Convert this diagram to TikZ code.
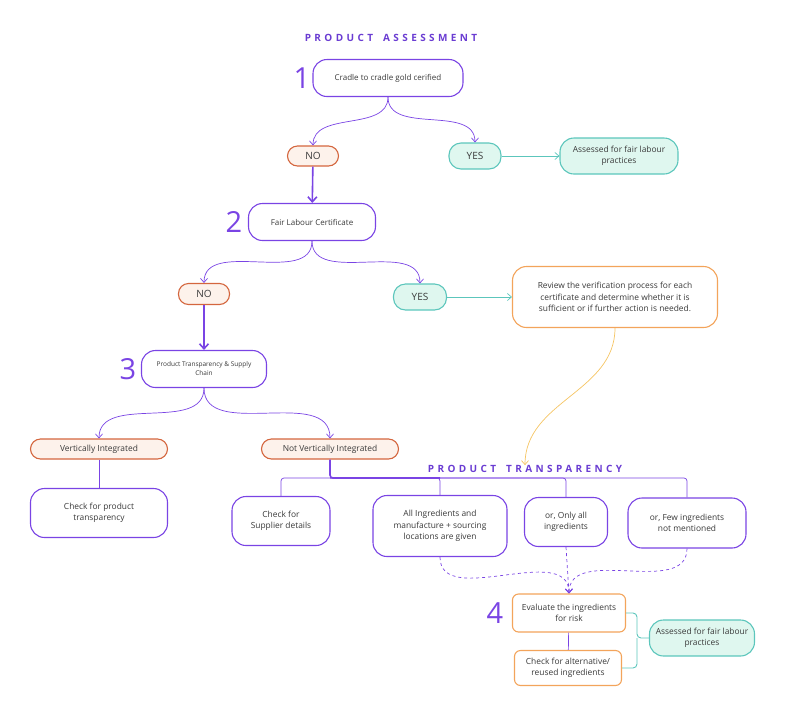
\documentclass[tikz,border=0pt]{standalone}
\usepackage{fontspec}
\setmainfont{Open Sans}
\newfontfamily\spacedfont[LetterSpace=34]{Open Sans}
\usetikzlibrary{arrows.meta}
\definecolor{plum}{HTML}{7A44E4}
\definecolor{headplum}{HTML}{6A3CD2}
\definecolor{rust}{HTML}{D4663E}
\definecolor{rustfill}{HTML}{FDF2EB}
\definecolor{lagoon}{HTML}{5CC6BC}
\definecolor{mint}{HTML}{DFF7EF}
\definecolor{amber}{HTML}{F3A45B}
\definecolor{honey}{HTML}{F5C462}
\definecolor{ink}{HTML}{3A3A3A}
\tikzset{ box/.style = { rectangle
                       , draw = plum
                       , line width   = 1.1pt
                       , fill = white
                       , text = ink
                       , align = center
                       , inner sep    = 0pt
                       , rounded corners = 14pt
                       , font = \fontsize{8.4}{11.5}\selectfont
                       },
            no/.style = { box
            , draw = rust
            , fill = rustfill
            , rounded corners = 10pt
            , font = \fontsize{10}{12}\selectfont
            },
            yes/.style = { no
            , draw = lagoon
            , fill = mint
            , rounded corners = 12pt
            },
            done/.style = { box
            , draw = lagoon
            , fill = mint
            },
            todo/.style = { box
            , draw = amber
            },
            stage/.style = { text = plum
            , inner sep = 0pt
            , font = \fontsize{29}{30}\selectfont
            },
            head/.style = { text = headplum
            , inner sep = 0pt
            , font = \spacedfont\bfseries\fontsize{10}{12}\selectfont
            },
            link/.style = { draw = plum
            , line width = 0.7pt
            , -{Straight Barb[length=4pt,width=7pt]}
            },
            heavy/.style = { draw = plum
            , line width = 1.6pt
            , -{Straight Barb[length=5pt,width=9pt]}
            }
          }
\begin{document}
\begin{tikzpicture}[x=1pt,y=-1pt]
            \useasboundingbox (0,0) rectangle (785,716);
            \node[head] (tpa) at (391,38) {PRODUCT\hspace{4pt} ASSESSMENT};
            % step 1
            \node[box, minimum width=150pt, minimum height=37pt, font=\fontsize{8}{10}\selectfont] (q1) at (388,78) {Cradle to cradle gold cerified};
            \node[stage] (s1) at (302,78) {1};
            \node[no, minimum width=51pt, minimum height=20pt] (n1) at (313,156) {NO};
            \node[yes, minimum width=52pt, minimum height=26pt] (y1) at (475,156) {YES};
            \node[done, minimum width=118pt, minimum height=36pt] (ok1) at (619,156) {Assessed for fair labour\\practices};
            \draw[link] (q1.south) to[out=-90,in=90] (n1.north);
            \draw[link] (q1.south) to[out=-90,in=90] (y1.north);
            \draw[link, draw=lagoon] (y1) -- (ok1);
            % step 2
            \node[box, minimum width=127pt, minimum height=37pt, font=\fontsize{8}{10}\selectfont] (q2) at (312,222) {Fair Labour Certificate};
            \node[stage] (s2) at (234,222) {2};
            \draw[heavy] (n1) -- (q2);
            \node[no, minimum width=51pt, minimum height=21pt] (n2) at (204,294) {NO};
            \node[yes, minimum width=53pt, minimum height=26pt] (y2) at (420,297) {YES};
            \node[todo, minimum width=205pt, minimum height=61pt] (rev) at (615,297)
                {Review the verification process for each\\certificate and determine whether it is\\sufficient or if further action is needed.};
            \draw[link] (q2.south) to[out=-90,in=90] (n2.north);
            \draw[link] (q2.south) to[out=-90,in=90] (y2.north);
            \draw[link, draw=lagoon] (y2) -- (rev);
            % step 3
            \node[box, minimum width=125pt, minimum height=37pt, font=\fontsize{6.5}{9}\selectfont] (q3) at (204,369)
                {Product Transparency \& Supply\\Chain};
            \node[stage] (s3) at (128,369) {3};
            \draw[heavy] (n2) -- (q3);
            \node[no, minimum width=137pt, minimum height=20pt, font=\fontsize{8.4}{10}\selectfont] (vi) at (99,449) {Vertically Integrated};
            \node[no, minimum width=137pt, minimum height=20pt, font=\fontsize{8.4}{10}\selectfont] (nvi) at (330,449) {Not Vertically Integrated};
            \draw[link] (q3.south) to[out=-90,in=90] (vi.north);
            \draw[link] (q3.south) to[out=-90,in=90] (nvi.north);
            \node[box, minimum width=137pt, minimum height=49pt] (cpt) at (99,513) {Check for product\\transparency};
            \draw[plum, line width=0.7pt] (vi) -- (cpt);
            % product transparency
            \node[head] (tpt) at (525,469) {PRODUCT\hspace{4pt} TRANSPARENCY};
            \draw[link, draw=honey] (rev.south) to[out=-90,in=90] (tpt.north);
            \node[box, minimum width=98pt, minimum height=49pt] (sup) at (281,521) {Check for\\Supplier details};
            \node[box, minimum width=134pt, minimum height=61pt] (all) at (440,526)
                {All Ingredients and\\manufacture + sourcing\\locations are given};
            \node[box, minimum width=83pt, minimum height=49pt] (only) at (566,522) {or, Only all\\ingredients};
            \node[box, minimum width=118pt, minimum height=50pt] (few) at (687,523) {or, Few ingredients\\not mentioned};
            \coordinate (hub) at (330,478);
            \draw[plum, line width=0.7pt, rounded corners=3pt] (hub) -| (sup.north);
            \draw[plum, line width=0.7pt, rounded corners=3pt] (hub) -| (all.north);
            \draw[plum, line width=0.7pt, rounded corners=3pt] (hub) -| (only.north);
            \draw[plum, line width=0.7pt, rounded corners=3pt] (hub) -| (few.north);
            \draw[plum, line width=1.6pt, rounded corners=3pt] (nvi.south) -- (hub) -- (all.north |- hub);
            % step 4
            \node[todo, minimum width=113pt, minimum height=38pt, rounded corners=6pt] (eval) at (569,613)
                {Evaluate the ingredients\\for risk};
            \node[stage] (s4) at (495,613) {4};
            \node[todo, minimum width=107pt, minimum height=35pt, rounded corners=6pt] (alt) at (568,668)
                {Check for alternative/\\reused ingredients};
            \node[done, minimum width=105pt, minimum height=36pt] (ok2) at (702,638) {Assessed for fair labour\\practices};
            \draw[link, dashed] (all.south) to[out=-90,in=90] (eval.north);
            \draw[link, dashed] (only.south) -- (eval.north);
            \draw[link, dashed] (few.south) to[out=-90,in=90] (eval.north);
            \draw[plum, line width=0.7pt] (eval) -- (alt);
            \coordinate (fork) at (637,638);
            \draw[lagoon, line width=0.9pt, rounded corners=4pt] (eval.east) -| (fork) -- (ok2.west);
            \draw[lagoon, line width=0.9pt, rounded corners=4pt] (alt.east) -| (fork);
            \end{tikzpicture}
\end{document}
